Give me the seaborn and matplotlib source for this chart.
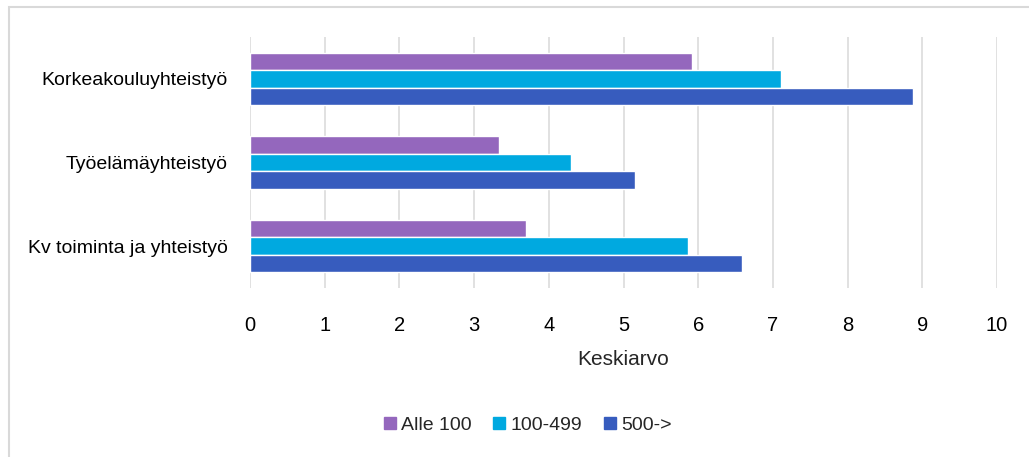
import matplotlib.pyplot as plt
import matplotlib.patches as mpatches
from matplotlib.lines import Line2D
import pandas as pd
import seaborn as sns

# --- data ---
categories = ["Korkeakouluyhteistyö", "Työelämäyhteistyö", "Kv toiminta ja yhteistyö"]
groups = ["Alle 100", "100-499", "500->"]
alle_100 = [5.92, 3.33, 3.69]
v100_499 = [7.11, 4.30, 5.86]
v500 = [8.88, 5.15, 6.58]

PALETTE = {"Alle 100": "#9467BD", "100-499": "#00A9E0", "500->": "#375CBE"}

sns.set_style("white")
plt.rcParams["font.family"] = ["Liberation Sans", "DejaVu Sans"]

rows = []
for cat, a, b, c in zip(categories, alle_100, v100_499, v500):
    rows += [(cat, "Alle 100", a), (cat, "100-499", b), (cat, "500->", c)]
df = pd.DataFrame(rows, columns=["kategoria", "ryhma", "keskiarvo"])

W, H = 1029, 457
fig = plt.figure(figsize=(W / 100, H / 100), dpi=100)
ax = fig.add_axes([250 / W, 1 - 288 / H, (997 - 250) / W, (288 - 37) / H])

sns.barplot(
    data=df,
    x="keskiarvo",
    y="kategoria",
    hue="ryhma",
    hue_order=groups,
    order=categories,
    palette=PALETTE,
    orient="h",
    width=0.625,
    saturation=1,
    errorbar=None,
    legend=False,
    ax=ax,
)

ax.set_xlim(0, 10)
ax.set_ylim(2.5, -0.5)
ax.set_xticks(range(0, 11))
ax.xaxis.grid(True, color="#D9D9D9", linewidth=1.1)
ax.set_axisbelow(True)
for s in ax.spines.values():
    s.set_visible(False)
ax.tick_params(axis="x", length=0, pad=20, labelsize=14.5, colors="#000000")
ax.tick_params(axis="y", length=0, pad=16, labelsize=14, colors="#000000")
ax.set_ylabel("")
ax.set_xlabel("Keskiarvo", fontsize=15, labelpad=11)

# legend with square markers
handles = [
    Line2D([], [], marker="s", linestyle="none", markersize=8.5,
           markerfacecolor=PALETTE[g], markeredgecolor=PALETTE[g], label=g)
    for g in groups
]
fig.legend(
    handles=handles,
    loc="center",
    bbox_to_anchor=(528 / W, 1 - 425 / H),
    ncol=3,
    frameon=False,
    fontsize=14,
    handlelength=0.6,
    handletextpad=0.3,
    columnspacing=1.1,
)

# light frame around the chart area
fig.patches.append(
    mpatches.Rectangle((9 / W, -0.05), 1.1, 1 - 7 / H + 0.05, transform=fig.transFigure,
                       fill=False, edgecolor="#D9D9D9", linewidth=1.5)
)

fig.savefig("out.png", dpi=100, facecolor="white")
